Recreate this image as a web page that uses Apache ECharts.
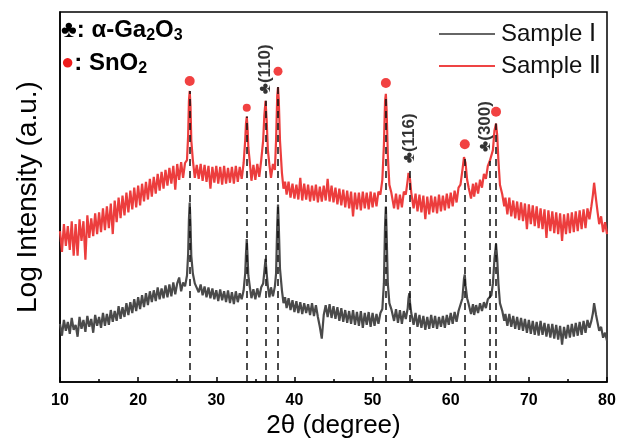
<!DOCTYPE html>
<html>
<head>
<meta charset="utf-8">
<script src="https://cdn.jsdelivr.net/npm/echarts@6/dist/echarts.min.js"></script>
<style>html,body{margin:0;padding:0;background:#fff}#c{width:623px;height:444px}</style>
</head>
<body>
<div id="c"></div>
<script>
// ---- DATA (2θ in degrees, log intensity in arbitrary units) ----
const sampleI = [
[10,59],[10.25,47],[10.5,63],[10.75,52],[11,61],[11.25,49],[11.5,65],[11.75,53],[12,58],[12.25,46],[12.5,66],[12.75,54],
[13,63],[13.25,51],[13.5,67],[13.75,56],[14,64],[14.25,50],[14.5,68],[14.75,57],[15,66],[15.25,55],[15.5,70],[15.75,57],
[16,69],[16.25,58],[16.5,73],[16.75,61],[17,72],[17.25,62],[17.5,77],[17.75,64],[18,76],[18.25,66],[18.5,80],[18.75,68],
[19,81],[19.25,70],[19.5,84],[19.75,72],[20,86],[20.25,74],[20.5,88],[20.75,76],[21,90],[21.25,78],[21.5,92],[21.75,81],
[22,93],[22.25,82],[22.5,96],[22.75,84],[23,95],[23.25,85],[23.5,98],[23.75,86],[24,99],[24.25,87],[24.5,101],[24.75,89],
[25,100],[25.25,106],[25.5,92],[25.75,101],[26,97],[26.25,108],[26.4,130],[26.5,165],[26.6,182],[26.7,160],[26.8,128],
[27,110],[27.25,100],[27.5,101],[27.75,91],[28,99],[28.25,88],[28.5,97],[28.75,86],[29,96],[29.25,85],[29.5,95],[29.75,84],
[30,93],[30.25,82],[30.5,94],[30.75,83],[31,92],[31.25,81],[31.5,93],[31.75,80],[32,91],[32.25,79],[32.5,92],[32.75,81],
[33,90],[33.25,84],[33.5,93],[33.7,110],[33.8,130],[33.9,145],[34,128],[34.1,108],[34.3,96],[34.5,85],[34.75,94],
[35,84],[35.25,95],[35.5,86],[35.75,96],[36,100],[36.15,112],[36.3,125],[36.45,110],[36.6,97],[36.8,86],[37,96],
[37.25,87],[37.5,97],[37.65,110],[37.8,160],[37.9,180],[38,158],[38.15,115],[38.4,93],[38.6,80],[38.8,86],[39,75],
[39.25,85],[39.5,73],[39.75,83],[40,71],[40.25,82],[40.5,70],[40.75,81],[41,69],[41.25,80],[41.5,70],[41.75,79],[42,68],
[42.25,80],[42.5,67],[42.75,78],[43,66],[43.25,56],[43.5,44],[43.75,68],[44,78],[44.25,66],[44.5,79],[44.75,65],[45,77],
[45.25,64],[45.5,76],[45.75,62],[46,75],[46.25,61],[46.5,73],[46.75,60],[47,72],[47.25,59],[47.5,73],[47.75,58],[48,71],
[48.25,57],[48.5,72],[48.75,55],[49,70],[49.25,58],[49.5,71],[49.75,56],[50,70],[50.25,57],[50.5,69],[50.75,59],[51,70],
[51.25,74],[51.45,100],[51.6,160],[51.7,178],[51.8,150],[51.95,100],[52.15,80],[52.4,74],[52.75,62],[53,74],[53.25,60],
[53.5,73],[53.75,59],[54,72],[54.25,64],[54.5,75],[54.6,85],[54.7,90],[54.8,80],[54.95,70],[55.25,58],[55.5,70],[55.75,56],
[56,68],[56.25,55],[56.5,67],[56.75,53],[57,66],[57.25,54],[57.5,68],[57.75,55],[58,67],[58.25,54],[58.5,66],[58.75,56],
[59,67],[59.25,55],[59.5,68],[59.75,58],[60,70],[60.25,59],[60.5,71],[60.75,61],[61,72],[61.25,70],[61.5,85],[61.7,105],
[61.8,109],[61.9,98],[62.1,85],[62.3,79],[62.6,69],[62.85,79],[63,68],[63.25,78],[63.5,70],[63.75,80],[64,72],[64.25,81],
[64.5,75],[64.75,84],[65,85],[65.2,88],[65.4,100],[65.6,125],[65.8,140],[65.95,125],[66.1,100],[66.3,80],[66.6,72],
[66.85,62],[67,69],[67.25,57],[67.5,69],[67.75,56],[68,67],[68.25,54],[68.5,66],[68.75,53],[69,65],[69.25,52],[69.5,64],
[69.75,50],[70,63],[70.25,49],[70.5,62],[70.75,48],[71,61],[71.25,47],[71.5,62],[71.75,48],[72,60],[72.25,46],[72.5,59],
[72.75,45],[73,59],[73.25,44],[73.5,58],[73.75,43],[74,57],[74.25,38],[74.5,56],[74.75,44],[75,58],[75.25,45],[75.5,59],
[75.75,46],[76,60],[76.25,47],[76.5,61],[76.75,48],[77,62],[77.25,50],[77.5,63],[77.75,55],[78,62],[78.2,70],[78.35,80],
[78.45,82],[78.6,68],[78.8,60],[79,52],[79.25,56],[79.5,45],[79.75,50],[80,42]
];
const sampleII = [
[10,153],[10.25,132],[10.5,160],[10.75,138],[11,158],[11.25,134],[11.5,163],[11.75,128],[12,160],[12.25,128],[12.5,165],
[12.75,143],[13,163],[13.25,124],[13.5,169],[13.75,146],[14,166],[14.25,148],[14.5,171],[14.75,150],[15,172],[15.25,152],
[15.5,176],[15.75,154],[16,178],[16.25,156],[16.5,181],[16.75,150],[17,184],[17.25,162],[17.5,187],[17.75,166],[18,189],
[18.25,169],[18.5,192],[18.75,172],[19,194],[19.25,175],[19.5,197],[19.75,177],[20,199],[20.25,179],[20.5,201],[20.75,183],
[21,203],[21.25,185],[21.5,206],[21.75,188],[22,208],[22.25,191],[22.5,211],[22.75,194],[23,213],[23.25,196],[23.5,215],
[23.75,199],[24,217],[24.25,201],[24.5,219],[24.75,195],[25,221],[25.25,205],[25.5,223],[25.75,207],[26,222],[26.25,225],
[26.4,250],[26.5,285],[26.6,295],[26.7,280],[26.8,245],[27,225],[27.25,207],[27.5,220],[27.75,206],[28,221],[28.25,204],
[28.5,220],[28.75,203],[29,219],[29.25,196],[29.5,218],[29.75,202],[30,219],[30.25,201],[30.5,218],[30.75,200],[31,219],
[31.25,201],[31.5,217],[31.75,202],[32,218],[32.25,201],[32.5,219],[32.75,203],[33,218],[33.25,206],[33.5,222],[33.7,245],
[33.8,262],[33.9,269],[34,258],[34.1,238],[34.3,222],[34.5,204],[34.75,220],[35,205],[35.25,221],[35.5,208],[35.75,225],
[36,245],[36.15,270],[36.3,285],[36.45,265],[36.6,235],[36.8,220],[37,207],[37.25,221],[37.5,215],[37.65,245],[37.8,290],
[37.9,299],[38,285],[38.15,245],[38.4,212],[38.6,196],[38.8,203],[39,190],[39.25,203],[39.5,187],[39.75,201],[40,186],
[40.25,200],[40.5,185],[40.75,207],[41,184],[41.25,201],[41.5,185],[41.75,200],[42,183],[42.25,199],[42.5,184],[42.75,200],
[43,182],[43.25,198],[43.5,183],[43.75,199],[44,184],[44.25,206],[44.5,183],[44.75,199],[45,182],[45.25,197],[45.5,180],
[45.75,196],[46,179],[46.25,195],[46.5,177],[46.75,194],[47,176],[47.25,193],[47.5,168],[47.75,192],[48,175],[48.25,192],
[48.5,174],[48.75,193],[49,176],[49.25,192],[49.5,175],[49.75,193],[50,177],[50.25,192],[50.5,178],[50.75,193],[51,190],
[51.25,205],[51.45,240],[51.6,285],[51.7,292],[51.8,275],[51.95,230],[52.15,200],[52.4,192],[52.75,176],[53,191],[53.25,175],
[53.5,190],[53.75,177],[54,193],[54.25,190],[54.5,205],[54.6,212],[54.7,214],[54.8,205],[54.95,192],[55.25,176],[55.5,191],
[55.75,173],[56,190],[56.25,172],[56.5,189],[56.75,165],[57,188],[57.25,170],[57.5,189],[57.75,172],[58,188],[58.25,171],
[58.5,190],[58.75,173],[59,189],[59.25,174],[59.5,191],[59.75,176],[60,192],[60.25,178],[60.5,194],[60.75,182],[61,197],
[61.25,200],[61.5,215],[61.7,228],[61.8,230],[61.9,222],[62.1,205],[62.3,197],[62.6,186],[62.85,201],[63,188],[63.25,202],
[63.5,191],[63.75,205],[64,197],[64.25,211],[64.5,206],[64.75,219],[65,224],[65.2,222],[65.4,235],[65.6,255],[65.8,262],
[65.95,250],[66.1,225],[66.3,200],[66.6,190],[66.85,178],[67,187],[67.25,170],[67.5,187],[67.75,168],[68,184],[68.25,166],
[68.5,183],[68.75,164],[69,182],[69.25,163],[69.5,181],[69.75,155],[70,180],[70.25,160],[70.5,179],[70.75,158],[71,178],
[71.25,156],[71.5,176],[71.75,155],[72,175],[72.25,146],[72.5,174],[72.75,153],[73,173],[73.25,151],[73.5,172],[73.75,150],
[74,171],[74.25,143],[74.5,170],[74.75,150],[75,171],[75.25,151],[75.5,172],[75.75,152],[76,173],[76.25,153],[76.5,174],
[76.75,155],[77,175],[77.25,156],[77.5,176],[77.75,165],[78,178],[78.2,190],[78.35,202],[78.45,204],[78.6,185],[78.8,172],
[79,160],[79.25,168],[79.5,152],[79.75,162],[80,150]
];
// reference (dashed) lines: peak positions and the top of the Sample II peak
const peakTheta = [26.6, 33.9, 36.3, 37.9, 51.7, 54.7, 61.8, 65.0, 65.8];
const peakTop   = [295, 269, 285, 299, 292, 214, 230, 224, 262];
// SnO2 markers
const sno2Theta = [26.6, 33.9, 37.9, 51.7, 61.8, 65.8];
const sno2Y     = [305, 278, 315, 303, 241, 274];
const sno2Size  = [10, 8, 9, 10, 10, 10];
// alpha-Ga2O3 labels
const gaTheta  = [36.3, 54.7, 64.4];
const gaY      = [317, 247, 259];
const gaLabels = ['♣(110)', '♣(116)', '♣(300)'];
// axis ticks
const xTicks = [10, 20, 30, 40, 50, 60, 70, 80];

const FONT = '"Liberation Sans", Arial, sans-serif';
const chart = echarts.init(document.getElementById('c'), null, {renderer: 'canvas'});

const dashData = peakTheta.map((t, i) => [{coord: [t, 0]}, {coord: [t, peakTop[i]]}]);
const subRich = {
  a: {fontFamily: FONT, fontSize: 24, fontWeight: 'bold', fill: '#000', lineHeight: 28, verticalAlign: 'middle'},
  s: {fontFamily: FONT, fontSize: 16, fontWeight: 'bold', fill: '#000', lineHeight: 15, verticalAlign: 'bottom'},
  r: {fontFamily: FONT, fontSize: 22, fill: '#ee1c1c', lineHeight: 28, verticalAlign: 'middle'}
};

chart.setOption({
  animation: false,
  backgroundColor: '#fff',
  grid: {left: 60, right: 16, top: 12, bottom: 57, show: true, borderColor: '#000', borderWidth: 1.5, backgroundColor: 'transparent'},
  xAxis: {
    type: 'value', min: xTicks[0], max: xTicks[xTicks.length - 1], interval: 10,
    name: '2θ (degree)', nameLocation: 'middle', nameGap: 11,
    nameTextStyle: {fontFamily: FONT, fontSize: 26, color: '#000', verticalAlign: 'top'},
    axisLine: {lineStyle: {color: '#000', width: 1.5}},
    axisTick: {inside: true, length: 5, lineStyle: {color: '#000', width: 1.5}},
    minorTick: {show: true, splitNumber: 2, length: 3, lineStyle: {color: '#000', width: 1.5}},
    axisLabel: {fontFamily: FONT, fontSize: 16, fontWeight: 'bold', color: '#000', margin: 10},
    splitLine: {show: false}
  },
  yAxis: {
    type: 'value', min: 0, max: 375,
    name: 'Log Intensity (a.u.)', nameLocation: 'middle', nameGap: 18,
    nameTextStyle: {fontFamily: FONT, fontSize: 28, color: '#000'},
    axisLine: {show: true, lineStyle: {color: '#000', width: 1.5}},
    axisTick: {show: false}, axisLabel: {show: false}, splitLine: {show: false}
  },
  legend: {
    orient: 'vertical', left: 434, top: 15, itemWidth: 56, itemHeight: 2, itemGap: 4,
    icon: 'rect',
    textStyle: {fontFamily: FONT, fontSize: 24, color: '#111', lineHeight: 28, padding: [0, 0, 0, 1]},
    data: [
      {name: 'Sample Ⅰ', itemStyle: {color: '#666'}},
      {name: 'Sample Ⅱ', itemStyle: {color: '#ee4444'}}
    ]
  },
  graphic: [
    {type: 'text', left: 61, top: 18, style: {rich: subRich, text: '{a|♣: α-Ga}{s|2}{a|O}{s|3}'}},
    {type: 'text', left: 61, top: 51, style: {rich: subRich, text: '{r|●}{a|: SnO}{s|2}'}}
  ],
  series: [
    {name: 'Sample Ⅰ', type: 'line', data: sampleI, symbol: 'none', z: 2,
     lineStyle: {color: '#4a4a4a', width: 2.2}, itemStyle: {color: '#4a4a4a'}},
    {name: 'Sample Ⅱ', type: 'line', data: sampleII, symbol: 'none', z: 2,
     lineStyle: {color: '#ec3d3d', width: 2.2}, itemStyle: {color: '#ec3d3d'}},
    {name: 'refs', type: 'scatter', data: [], z: 3, silent: true,
     markLine: {silent: true, symbol: 'none', label: {show: false},
       lineStyle: {color: '#111', type: [7, 5], width: 1.5}, data: dashData}},
    {name: 'SnO2', type: 'scatter', z: 4, silent: true,
     data: sno2Theta.map((t, i) => ({value: [t, sno2Y[i]], symbolSize: sno2Size[i]})),
     itemStyle: {color: '#ee1111'}},
    {name: 'Ga2O3', type: 'scatter', z: 4, silent: true, symbolSize: 1,
     itemStyle: {color: 'transparent'},
     data: gaTheta.map((t, i) => ({value: [t, gaY[i]], label: {formatter: gaLabels[i]}})),
     label: {show: true, position: 'inside', rotate: 90, align: 'center', verticalAlign: 'middle',
       fontFamily: FONT, fontSize: 17, fontWeight: 'bold', color: '#000'}}
  ]
});
</script>
</body>
</html>
